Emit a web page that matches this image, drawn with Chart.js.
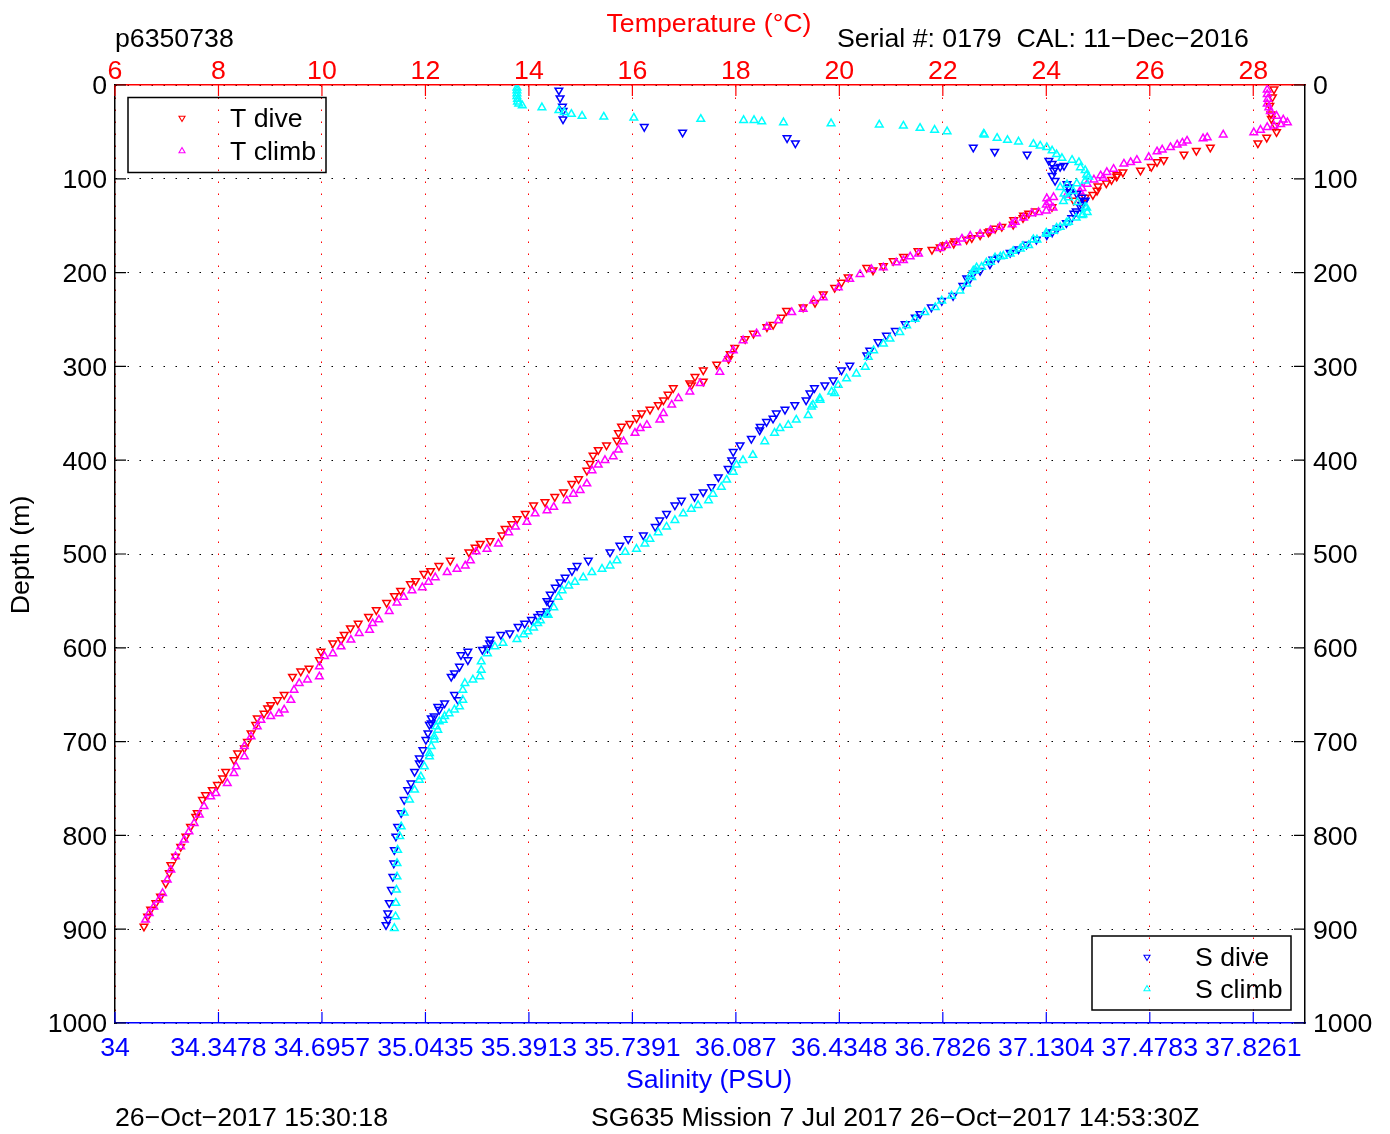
<!DOCTYPE html>
<html>
<head>
<meta charset="utf-8">
<script src="https://cdn.jsdelivr.net/npm/chart.js@4.4.1/dist/chart.umd.min.js"></script>
<style>
  body { margin: 0; background: #fff; }
  #wrap { width: 1390px; height: 1134px; }
</style>
</head>
<body>
<div id="wrap"><canvas id="ctdChart" width="1390" height="1134"></canvas></div>
<script>
// DATA  ([depth m, value])
const tempTicks = [6, 8, 10, 12, 14, 16, 18, 20, 22, 24, 26, 28];
const salTicks = [34, 34.3478, 34.6957, 35.0435, 35.3913, 35.7391, 36.087, 36.4348, 36.7826, 37.1304, 37.4783, 37.8261];
const depthTicks = [0, 100, 200, 300, 400, 500, 600, 700, 800, 900, 1000];

const tDive = [
  [4.6,28.40],[13,28.37],[22,28.32],[31,28.34],[36,28.35],[43.5,28.43],[50,28.45],[56,28.26],[62,28.09],
  [66.5,27.17],[70,26.90],[74,26.66],[80,26.27],[82,26.14],[87,26.03],[91,25.82],[93,25.48],[96,25.37],[97.5,25.36],
  [101,25.26],[104.6,25.16],[108,25.00],[112.5,24.98],[117,24.90],[120,24.75],[123,24.53],[126,24.71],[130,24.11],
  [134.5,23.79],[137,23.66],[139,23.56],[141.7,23.55],[144,23.37],[148.8,23.36],[151,23.14],[153,23.01],[155.8,22.91],
  [157,22.88],[160,22.72],[163,22.56],[164.7,22.46],[166.4,22.23],[169,22.21],[170.7,22.04],[173,21.95],[175.5,21.79],
  [177,21.52],[183,21.24],[187.6,21.04],[193,20.85],[194.7,20.53],[197.5,20.65],[205,20.17],[210.6,20.04],[216,19.91],
  [223,19.69],[232,19.53],[237,19.30],[240.6,18.98],[247.7,18.88],[255.5,18.72],[258,18.60],[265,18.34],[270.7,18.18],
  [280,17.98],[286.6,17.89],[292,17.86],[298,17.63],[304,17.37],[311,17.21],[316,17.37],[318,17.11],[320,17.14],
  [323,16.79],[330,16.69],[336,16.60],[341,16.50],[346,16.34],[350,16.18],[355,16.08],[361,15.95],[364,15.79],
  [371,15.73],[379,15.70],[384,15.50],[389,15.34],[395,15.24],[403.6,15.18],[411,15.12],[420,14.96],[425,14.83],
  [434,14.67],[439,14.50],[444.6,14.31],[448,14.09],[457,13.93],[462.5,13.77],[468,13.67],[473,13.54],[480,13.48],
  [486,13.25],[489,13.06],[493,12.96],[498,12.84],[507,12.48],[512.5,12.26],[518,12.10],[521,11.97],[528.6,11.81],
  [532,11.71],[539,11.52],[544.6,11.40],[552,11.25],[559.7,11.05],[566.8,10.90],[574,10.70],[579,10.55],[586,10.43],
  [591.6,10.37],[595,10.21],[604,9.98],[613,9.95],[622,9.75],[625,9.59],[630.7,9.43],[650,9.27],[655.6,9.14],
  [661,9.01],[664.5,8.95],[670,8.88],[675,8.75],[682,8.72],[691,8.63],[700,8.56],[707,8.50],[712.4,8.37],[719.5,8.30],
  [732,8.14],[739,8.08],[746,7.98],[751.5,7.88],[757,7.75],[762,7.69],[776,7.59],[780,7.56],[790.6,7.46],[801,7.37],
  [812,7.27],[822.5,7.17],[831.4,7.08],[840,7.05],[851,6.98],[865,6.88],[872,6.79],[879,6.69],[886.5,6.63],[897,6.56]
];

const tClimb = [
  [5,28.27],[10,28.27],[15,28.28],[20,28.27],[24,28.30],[28,28.33],[33,28.45],[37,28.58],[40,28.66],[42,28.53],
  [43.5,28.40],[45,28.27],[48,28.14],[50.6,28.01],[53,27.42],[56,27.11],[57,27.03],[59.5,26.72],[61.6,26.63],
  [63.7,26.53],[66.5,26.40],[69,26.24],[71,26.14],[77,25.98],[80,25.75],[82.5,25.63],[84,25.50],[89.6,25.30],
  [93,25.17],[96.6,25.05],[99.3,25.10],[101,24.92],[105.5,24.79],[110,24.69],[113.4,24.65],[117,24.40],[119.6,24.14],
  [121,24.01],[125,24.05],[127.6,24.00],[131,24.13],[134,24.00],[135.6,23.85],[137,23.72],[141.6,23.56],[146,23.40],
  [148.7,23.34],[151.5,23.10],[155,22.92],[159,22.72],[161,22.53],[164,22.37],[168,22.27],[171,22.07],[174,21.94],
  [180,21.53],[183,21.37],[187,21.24],[189.4,21.10],[194.7,20.85],[196.5,20.62],[201.8,20.40],[207,20.20],[216,19.98],
  [226.5,19.69],[230,19.50],[238.9,19.30],[242.4,19.08],[251,18.82],[258,18.60],[265,18.40],[272.4,18.14],[283,17.95],
  [292,17.82],[306,17.69],[318,17.31],[327,17.11],[334,16.89],[341,16.76],[350,16.60],[357,16.53],[362.5,16.28],
  [366,16.15],[371,16.05],[380,15.83],[389,15.73],[396,15.63],[400,15.47],[405,15.34],[411,15.22],[425,15.12],
  [432,14.99],[436,14.86],[443,14.73],[450,14.48],[453.6,14.35],[457,14.12],[466,13.96],[471,13.74],[477,13.61],
  [489,13.41],[494.6,13.19],[497.5,12.98],[507,12.87],[512.5,12.77],[516,12.61],[519.6,12.42],[525,12.19],[530,12.06],
  [535.7,11.94],[539,11.74],[546,11.58],[552,11.45],[561,11.30],[570,11.10],[574,10.98],[581,10.92],[584.5,10.72],
  [591.6,10.56],[598.8,10.37],[606,10.21],[609,10.05],[620,9.95],[630.7,9.95],[634,9.72],[637.8,9.56],[645,9.46],
  [655.6,9.40],[666,9.27],[670,9.17],[673,9.01],[677,8.82],[684,8.75],[694.7,8.63],[705,8.50],[716,8.50],[726.6,8.34],
  [733.7,8.30],[744.4,8.17],[755,7.95],[758.6,7.85],[769,7.72],[778,7.63],[787,7.53],[796,7.43],[804.8,7.34],[812,7.27],
  [822.5,7.17],[836.8,7.08],[847.4,7.01],[861.6,6.92],[868.7,6.85],[876,6.75],[883,6.66],[890,6.59]
];

const sDive = [
  [5.7,35.492],[14,35.496],[23,35.504],[27.5,35.506],[36.4,35.506],[44.5,35.779],[50.5,35.908],[56.5,36.259],[62,36.287],
  [66.5,36.885],[71,36.957],[74,37.066],[80.7,37.139],[84,37.150],[86,37.190],[87,37.177],[88.5,37.160],[91,37.155],
  [96.6,37.150],[102,37.160],[105.5,37.200],[109,37.205],[114,37.210],[116,37.233],[120,37.250],[123,37.261],[124,37.259],
  [127.6,37.249],[130,37.245],[134.6,37.231],[137,37.223],[141.7,37.216],[147,37.198],[153,37.167],[157,37.150],[160,37.132],
  [164.7,37.097],[170,37.064],[175,37.037],[178.8,37.009],[184,36.969],[185.9,36.951],[191,36.941],[198,36.908],[201,36.885],
  [206,36.863],[207,36.873],[214,36.850],[224.7,36.817],[230,36.779],[237,36.744],[244,36.706],[247.7,36.690],[254.8,36.656],
  [262,36.623],[267,36.593],[274,36.565],[283,36.537],[288,36.527],[299,36.470],[304,36.442],[314.8,36.414],[320,36.386],
  [323,36.351],[328.6,36.336],[336,36.323],[341,36.285],[346,36.252],[350,36.223],[355.5,36.212],[359,36.190],[364.3,36.169],
  [368,36.167],[377,36.139],[384,36.101],[391,36.078],[400,36.073],[409,36.061],[418,36.028],[428.6,36.005],[434,35.977],
  [439,35.948],[443,35.904],[448,35.882],[457,35.854],[464,35.831],[471,35.816],[480,35.776],[484,35.725],[491,35.697],
  [498,35.664],[507,35.591],[512.5,35.553],[518,35.536],[525,35.513],[530,35.496],[535.7,35.480],[543,35.463],[550,35.452],
  [552.6,35.461],[561,35.452],[564,35.430],[566.8,35.421],[570,35.400],[574,35.377],[577.4,35.355],[584.5,35.327],[586,35.297],
  [591,35.261],[595,35.259],[600.5,35.252],[602,35.235],[604,35.186],[607.6,35.163],[613,35.186],[620,35.158],[627,35.141],
  [630.7,35.130],[650,35.141],[655.6,35.153],[659,35.108],[662.7,35.085],[666,35.090],[673,35.073],[675,35.063],[680.5,35.063],
  [682,35.057],[691,35.052],[698,35.045],[709,35.035],[717.7,35.023],[723,35.023],[732,35.007],[744.4,34.995],[751.5,34.984],
  [762,34.972],[776,34.962],[790.6,34.950],[801,34.944],[815.5,34.939],[829.7,34.937],[844,34.934],[858,34.929],[872,34.922],
  [883,34.917],[890,34.918],[895.4,34.911]
];

const sClimb = [
  [3,35.351],[6,35.351],[9,35.351],[12,35.351],[15,35.353],[18,35.353],[20,35.357],[22,35.369],[24,35.435],[27,35.492],
  [29,35.510],[31,35.534],[33,35.570],[34,35.643],[35,35.744],[36.4,35.969],[37.5,36.113],[37.5,36.148],[39,36.174],
  [40,36.247],[41,36.407],[42.4,36.569],[43.5,36.650],[46,36.706],[48,36.755],[49.6,36.797],[52,36.920],[53,36.922],
  [56.6,36.965],[58.8,37.000],[60.5,37.037],[63,37.087],[64.8,37.110],[66.5,37.132],[70,37.150],[74,37.165],[78,37.183],
  [80,37.217],[82.5,37.240],[88,37.245],[91,37.261],[95.8,37.266],[98,37.273],[102,37.261],[105,37.233],[106,37.200],
  [109,37.177],[113.4,37.221],[116,37.190],[120,37.205],[124,37.188],[125,37.235],[130,37.261],[131,37.266],[135.6,37.268],
  [138,37.254],[139,37.250],[141.7,37.231],[146,37.205],[147,37.198],[151.5,37.177],[152.3,37.165],[155.8,37.155],
  [157.6,37.130],[159,37.132],[164.7,37.087],[165,37.099],[171,37.071],[171.7,37.052],[174.5,37.043],[177,37.019],
  [180,37.009],[182.3,36.986],[183,36.976],[184,36.958],[188.7,36.943],[189.4,36.929],[194,36.913],[194.7,36.896],
  [197.5,36.892],[198,36.885],[203,36.875],[205,36.880],[212,36.863],[219.4,36.840],[224.7,36.812],[230,36.779],
  [237,36.757],[242.4,36.722],[249.5,36.689],[256.5,36.661],[263.6,36.638],[270.7,36.605],[276,36.583],[283,36.550],
  [290,36.532],[300.7,36.522],[307.8,36.492],[313,36.459],[320,36.431],[327,36.409],[328.6,36.419],[334,36.369],
  [336,36.370],[341,36.346],[343,36.341],[352,36.330],[357,36.290],[362.5,36.263],[366,36.235],[371,36.217],[380,36.184],
  [394.6,36.144],[400,36.111],[405,36.089],[412.5,36.078],[421,36.056],[428.6,36.038],[436,36.010],[443,35.995],
  [448,35.960],[452,35.937],[457,35.910],[464,35.882],[471,35.854],[477,35.826],[484,35.798],[489,35.781],[494.6,35.753],
  [498,35.715],[507,35.687],[512.5,35.664],[516,35.637],[519.6,35.603],[525,35.574],[530,35.546],[534,35.525],[539,35.503],
  [546,35.490],[557,35.475],[564,35.452],[565,35.456],[571,35.430],[574,35.421],[578.6,35.407],[582.8,35.388],[586,35.374],
  [591,35.351],[595,35.304],[598.8,35.277],[606,35.252],[614.7,35.231],[623.6,35.231],[630.7,35.226],[634,35.203],
  [637.8,35.176],[645,35.169],[655.6,35.169],[662.7,35.158],[666,35.141],[670,35.123],[673,35.108],[677,35.103],
  [678.7,35.090],[684,35.080],[687.6,35.085],[694.7,35.073],[698,35.073],[705,35.063],[712.4,35.057],[716,35.057],
  [726.6,35.040],[737.3,35.028],[740.9,35.023],[751.5,35.007],[762,34.990],[776,34.972],[790.6,34.962],[801,34.957],
  [815.5,34.950],[829.7,34.948],[844,34.948],[858,34.946],[872,34.944],[886.5,34.943],[899,34.939]
];

const FONT = "'Liberation Sans', Arial, Helvetica, sans-serif";
const FSIZE = 26.7;
Chart.defaults.font.family = FONT;
Chart.defaults.font.size = FSIZE;

const toXY = (pairs) => pairs.map(p => ({ x: p[1], y: p[0] }));

function markerSet(label, pairs, color, axis, down) {
  return {
    label: label,
    data: toXY(pairs),
    xAxisID: axis,
    yAxisID: "y",
    showLine: false,
    pointStyle: "triangle",
    rotation: down ? 180 : 0,
    pointRadius: 4.4,
    pointBorderWidth: 1.5,
    borderColor: color,
    backgroundColor: "rgba(0,0,0,0)"
  };
}

// small legend triangle
function tri(ctx, x, y, r, color, down) {
  const s = down ? -1 : 1;
  ctx.beginPath();
  ctx.moveTo(x, y - s * r);
  ctx.lineTo(x + r * 0.866, y + s * r * 0.5);
  ctx.lineTo(x - r * 0.866, y + s * r * 0.5);
  ctx.closePath();
  ctx.strokeStyle = color;
  ctx.lineWidth = 1.1;
  ctx.stroke();
}

// INWARD TICKS, TEXTS AND LEGEND BOXES
const decorPlugin = {
  id: "decor",
  afterDraw(chart) {
    const ctx = chart.ctx;
    const a = chart.chartArea;
    const xt = chart.scales.xt, xs = chart.scales.xs, y = chart.scales.y;
    const len = 11;

    ctx.save();
    ctx.lineWidth = 1.2;
    ctx.strokeStyle = "#ff0000";
    tempTicks.forEach(v => {
      const px = xt.getPixelForValue(v);
      ctx.beginPath(); ctx.moveTo(px, a.top); ctx.lineTo(px, a.top + len); ctx.stroke();
    });
    ctx.strokeStyle = "#0000ff";
    salTicks.forEach(v => {
      const px = xs.getPixelForValue(v);
      ctx.beginPath(); ctx.moveTo(px, a.bottom); ctx.lineTo(px, a.bottom - len); ctx.stroke();
    });
    ctx.strokeStyle = "#000";
    depthTicks.forEach(v => {
      const py = y.getPixelForValue(v);
      ctx.beginPath();
      ctx.moveTo(a.left, py); ctx.lineTo(a.left + len, py);
      ctx.moveTo(a.right, py); ctx.lineTo(a.right - len, py);
      ctx.stroke();
    });

    // texts
    ctx.font = FSIZE + "px " + FONT;
    ctx.textBaseline = "alphabetic";
    ctx.textAlign = "left";
    ctx.fillStyle = "#000";
    ctx.fillText("p6350738", 115, 47);
    ctx.fillText("Serial #: 0179  CAL: 11\u2212Dec\u22122016", 837, 47);
    ctx.fillText("26\u2212Oct\u22122017 15:30:18", 115, 1126);
    ctx.fillText("SG635 Mission 7 Jul 2017 26\u2212Oct\u22122017 14:53:30Z", 591, 1126);
    ctx.textAlign = "center";
    ctx.fillStyle = "#ff0000";
    ctx.fillText("Temperature (\u00B0C)", 709, 32);
    ctx.fillStyle = "#0000ff";
    ctx.fillText("Salinity (PSU)", 709, 1088);

    ctx.save();
    ctx.translate(22, 555);
    ctx.rotate(-Math.PI / 2);
    ctx.fillStyle = "#000";
    ctx.textBaseline = "middle";
    ctx.fillText("Depth (m)", 0, 0);
    ctx.restore();

    // legends
    ctx.strokeStyle = "#000";
    ctx.lineWidth = 1.5;
    ctx.strokeRect(128, 97.5, 198, 75);
    ctx.strokeRect(1092, 936, 199, 74);
    tri(ctx, 182, 118, 3.5, "#ff0000", true);
    tri(ctx, 182, 151, 3.5, "#ff00ff", false);
    tri(ctx, 1147, 957, 3.5, "#0000ff", true);
    tri(ctx, 1147, 989, 3.5, "#00ffff", false);
    ctx.fillStyle = "#000";
    ctx.textAlign = "left";
    ctx.textBaseline = "middle";
    ctx.fillText("T dive", 230, 120);
    ctx.fillText("T climb", 230, 153);
    ctx.fillText("S dive", 1195, 959);
    ctx.fillText("S climb", 1195, 991);
    ctx.restore();
  }
};

new Chart(document.getElementById("ctdChart"), {
  type: "scatter",
  data: {
    datasets: [
      markerSet("S climb", sClimb, "#00ffff", "xs", false),
      markerSet("S dive", sDive, "#0000ff", "xs", true),
      markerSet("T climb", tClimb, "#ff00ff", "xt", false),
      markerSet("T dive", tDive, "#ff0000", "xt", true)
    ]
  },
  options: {
    responsive: false,
    animation: false,
    layout: { padding: 0 },
    plugins: {
      legend: { display: false },
      tooltip: { enabled: false },
      title: { display: false }
    },
    scales: {
      xt: {
        type: "linear",
        position: "top",
        min: 6,
        max: 29,
        afterBuildTicks: (s) => { s.ticks = tempTicks.map(v => ({ value: v })); },
        afterFit: (s) => { s.height = 85; },
        ticks: {
          color: "#ff0000",
          padding: 0,
          maxRotation: 0,
          autoSkip: false,
          font: { size: FSIZE, lineHeight: 1 },
          callback: (v) => String(v)
        },
        grid: { color: "#ff0000", lineWidth: 1, drawTicks: false },
        border: { color: "#ff0000", width: 1.5, dash: [1.5, 10.5] }
      },
      xs: {
        type: "linear",
        position: "bottom",
        min: 34,
        max: 38,
        afterBuildTicks: (s) => { s.ticks = salTicks.map(v => ({ value: v })); },
        afterFit: (s) => { s.height = 111; },
        ticks: {
          color: "#0000ff",
          padding: 12,
          maxRotation: 0,
          autoSkip: false,
          font: { size: FSIZE, lineHeight: 1 },
          callback: (v) => String(v)
        },
        grid: { display: false, drawTicks: false },
        border: { color: "#0000ff", width: 1.5 }
      },
      y: {
        type: "linear",
        position: "left",
        reverse: true,
        min: 0,
        max: 1000,
        afterBuildTicks: (s) => { s.ticks = depthTicks.map(v => ({ value: v })); },
        afterFit: (s) => { s.width = 115; },
        ticks: {
          color: "#000",
          padding: 8,
          labelOffset: 2,
          autoSkip: false,
          font: { size: FSIZE, lineHeight: 1 },
          callback: (v) => String(v)
        },
        grid: { color: "#000", lineWidth: 1, drawTicks: false },
        border: { color: "#000", width: 1.5, dash: [1.5, 10.5] }
      },
      yr: {
        type: "linear",
        position: "right",
        reverse: true,
        min: 0,
        max: 1000,
        afterBuildTicks: (s) => { s.ticks = depthTicks.map(v => ({ value: v })); },
        afterFit: (s) => { s.width = 85; },
        ticks: {
          color: "#000",
          padding: 8,
          labelOffset: 2,
          autoSkip: false,
          font: { size: FSIZE, lineHeight: 1 },
          callback: (v) => String(v)
        },
        grid: { display: false, drawTicks: false },
        border: { color: "#000", width: 1.5 }
      }
    }
  },
  plugins: [decorPlugin]
});
</script>
</body>
</html>
